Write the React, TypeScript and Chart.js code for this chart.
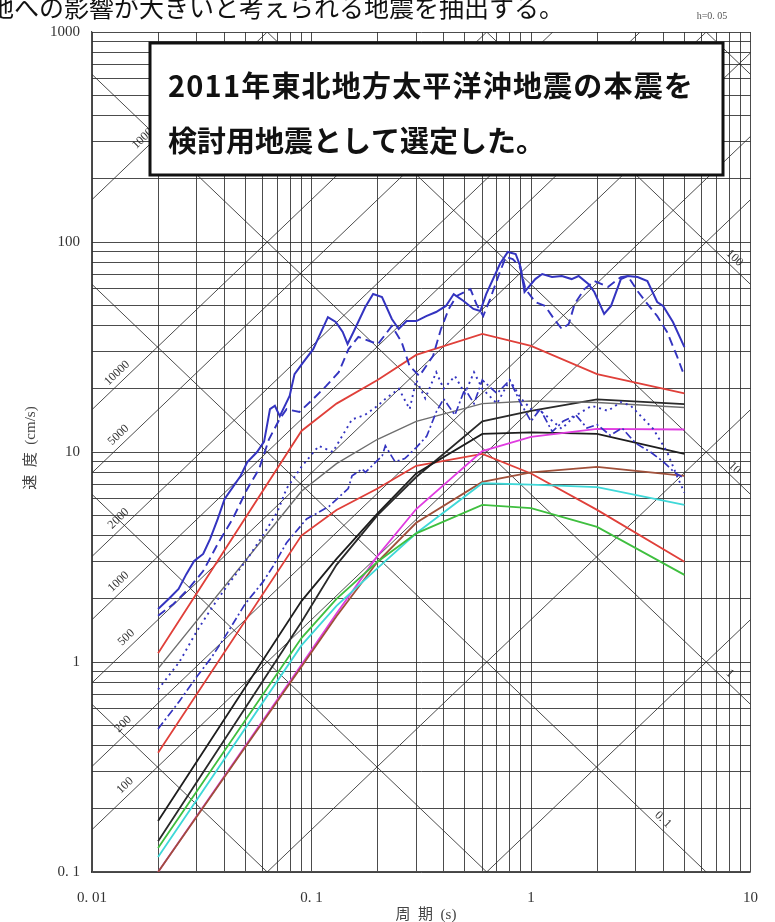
import React, { useEffect, useRef } from "react";
import { Chart, registerables } from "chart.js";
Chart.register(...registerables);

// ---------- axis ticks ----------
const xMajorTicks = [0.01, 0.1, 1, 10];
const xTickLabels = ["0. 01", "0. 1", "1", "10"];
const yMajorTicks = [0.1, 1, 10, 100, 1000];
const yTickLabels = ["0. 1", "1", "10", "100", "1000"];
const minorMultipliers = [1, 2, 3, 4, 5, 6, 7, 8, 9];

// ---------- tripartite guide lines ----------
const accelValues = [1, 10, 100, 200, 500, 1000, 2000, 5000, 10000, 100000]; // cm/s2
const accelLabelTexts = ["100", "200", "500", "1000", "2000", "5000", "10000", "100000"];
const accelLabelValues = [100, 200, 500, 1000, 2000, 5000, 10000, 100000];
const accelLabelPeriods = [0.0151, 0.0148, 0.0153, 0.0141, 0.0141, 0.0141, 0.0139, 0.019];
const dispValues = [0.001, 0.01, 0.1, 1, 10, 100, 1000]; // cm
const dispLabelTexts = ["0. 1", "1", "10", "100"];
const dispLabelValues = [0.1, 1, 10, 100];
const dispLabelPeriods = [3.77, 7.6, 7.98, 7.98];

// ---------- Noda-type spectra ----------
const nodaPeriods = [0.02, 0.09, 0.13, 0.2, 0.3, 0.6, 1, 2, 5];
const redUpper = [1.1, 12.6, 17, 22, 29, 36.5, 32, 23.5, 19];
const redLower = [0.37, 4.0, 5.3, 6.7, 8.6, 9.8, 7.9, 5.3, 3.0];
const grayLine = [0.93, 6.5, 8.8, 11.5, 14.0, 17.0, 17.5, 17.2, 16.3];
const blackA = [0.14, 1.55, 2.9, 5.0, 7.6, 14.0, 15.7, 17.8, 16.9];
const blackB = [0.175, 1.95, 3.1, 5.1, 7.9, 12.2, 12.4, 12.2, 9.8];
const magentaLine = [0.1, 0.97, 1.7, 3.2, 5.35, 10.1, 11.8, 12.9, 12.8];
const brownLine = [0.1, 0.95, 1.65, 3.0, 4.6, 7.2, 8.0, 8.5, 7.7];
const cyanLine = [0.118, 1.2, 1.85, 2.8, 4.1, 7.1, 7.0, 6.8, 5.6];
const greenLine = [0.13, 1.3, 2.0, 3.0, 4.1, 5.6, 5.4, 4.4, 2.6];

// ---------- observed spectra (2011) ----------
const obsSolidT = [0.02, 0.0224, 0.0248, 0.0269, 0.0292, 0.0321, 0.0345, 0.0374, 0.0402, 0.0475, 0.051, 0.0565, 0.0608, 0.0647, 0.0681, 0.0717, 0.0795, 0.0837, 0.0918, 0.1018, 0.1188, 0.129, 0.1387, 0.146, 0.1553, 0.1758, 0.1909, 0.2095, 0.2323, 0.2496, 0.2711, 0.3005, 0.3332, 0.3694, 0.4095, 0.4446, 0.493, 0.5465, 0.5874, 0.6249, 0.7218, 0.7839, 0.8514, 0.8965, 0.9342, 0.9835, 1.046, 1.125, 1.247, 1.382, 1.532, 1.648, 1.826, 1.943, 2.154, 2.315, 2.567, 2.759, 3.058, 3.39, 3.758, 3.998, 4.432, 5.0];
const obsSolidV = [1.79, 2.0, 2.23, 2.62, 3.03, 3.27, 3.85, 4.8, 5.97, 7.69, 8.96, 10.0, 11.2, 16.0, 16.6, 14.8, 18.5, 23.5, 26.8, 30.9, 43.9, 41.6, 37.3, 32.7, 37.3, 49.0, 56.5, 54.7, 43.0, 38.5, 42.0, 42.0, 44.4, 46.4, 49.6, 56.5, 52.4, 48.0, 46.9, 56.5, 78.6, 89.6, 87.7, 76.0, 57.8, 61.7, 66.6, 70.4, 68.1, 68.9, 66.6, 68.9, 63.1, 57.8, 45.4, 49.6, 66.6, 68.9, 68.1, 65.2, 51.8, 49.6, 41.6, 31.6];

const obsDashT = [0.02, 0.0235, 0.0275, 0.0321, 0.0374, 0.0437, 0.051, 0.0577, 0.064, 0.0717, 0.077, 0.0881, 0.1018, 0.1164, 0.1331, 0.1475, 0.1635, 0.1889, 0.201, 0.2323, 0.2574, 0.2796, 0.3099, 0.3581, 0.3889, 0.4222, 0.4587, 0.5299, 0.5636, 0.6058, 0.6512, 0.7218, 0.768, 0.8254, 0.8872, 0.9438, 1.046, 1.16, 1.273, 1.382, 1.486, 1.581, 1.752, 1.943, 2.244, 2.567, 2.759, 3.058, 3.39, 3.758, 4.167, 4.619, 5.0];
const obsDashV = [1.66, 1.89, 2.23, 2.71, 3.65, 4.8, 6.67, 8.3, 11.5, 14.4, 16.0, 15.5, 17.9, 20.6, 24.0, 30.9, 35.3, 33.4, 32.7, 39.8, 33.4, 25.7, 23.0, 28.7, 38.5, 48.0, 55.3, 59.7, 50.7, 44.4, 53.5, 72.0, 84.8, 83.0, 76.9, 59.7, 51.8, 49.6, 43.0, 38.5, 40.7, 50.7, 59.7, 65.2, 61.1, 68.1, 68.9, 58.4, 50.7, 44.4, 37.3, 28.7, 23.0];

const obsDotT = [0.02, 0.025, 0.03, 0.035, 0.04, 0.045, 0.051, 0.06, 0.07, 0.077, 0.09, 0.108, 0.125, 0.153, 0.175, 0.2, 0.217, 0.25, 0.28, 0.3, 0.33, 0.37, 0.4, 0.45, 0.5, 0.55, 0.6, 0.7, 0.8, 0.9, 1.0, 1.12, 1.38, 1.58, 1.89, 2.24, 2.57, 2.85, 3.17, 3.6, 4.17, 4.62, 5.0];
const obsDotV = [0.74, 1.0, 1.4, 1.8, 2.2, 2.6, 3.1, 4.0, 5.2, 6.7, 8.5, 10.7, 10.0, 14.3, 15.0, 16.6, 17.9, 20.0, 16.0, 22.0, 18.0, 24.0, 20.0, 23.0, 19.0, 24.0, 20.0, 17.0, 22.0, 18.0, 16.0, 15.5, 12.9, 14.8, 16.6, 15.7, 17.3, 16.6, 14.8, 12.9, 10.0, 7.7, 6.4];

const obsDashDotT = [0.02, 0.025, 0.03, 0.035, 0.04, 0.05, 0.06, 0.067, 0.077, 0.095, 0.12, 0.147, 0.153, 0.17, 0.176, 0.21, 0.217, 0.24, 0.266, 0.3, 0.335, 0.37, 0.4, 0.45, 0.5, 0.55, 0.6, 0.7, 0.8, 0.9, 1.0, 1.1, 1.25, 1.4, 1.6, 1.8, 2.0, 2.3, 2.6, 3.0, 3.5, 4.0, 4.5, 5.0];
const obsDashDotV = [0.48, 0.65, 0.85, 1.05, 1.3, 1.9, 2.4, 2.87, 3.7, 4.8, 5.5, 6.7, 7.7, 8.3, 8.0, 9.6, 10.7, 9.0, 9.3, 10.5, 11.9, 15.5, 17.9, 15.0, 20.0, 17.0, 22.0, 19.0, 22.0, 17.0, 14.0, 16.0, 12.5, 14.0, 15.0, 13.0, 13.5, 12.0, 13.0, 11.0, 10.0, 9.0, 8.0, 7.5];

const GRID = "rgba(45,45,45,0.85)";
const LABEL = "#333";
const BLUE = "#3434c0";
const TWO_PI = 2 * Math.PI;

const pts = (T: number[], V: number[]) => T.map((t, i) => ({ x: t, y: V[i] }));

const gridValues = (lo: number, hi: number) => {
  const out: number[] = [];
  for (let d = lo; d < hi * 0.999; d *= 10) minorMultipliers.forEach((m) => out.push(+(d * m).toPrecision(6)));
  out.push(hi);
  return out;
};

function App() {
  const ref = useRef<HTMLCanvasElement>(null);
  useEffect(() => {
    const canvas = ref.current!;
    const datasets: any[] = [];
    const guide = (data: any[]) => ({ data, borderColor: GRID, borderWidth: 1, pointRadius: 0, order: 20 });
    accelValues.forEach((a) => datasets.push(guide([{ x: 0.01, y: (a * 0.01) / TWO_PI }, { x: 10, y: (a * 10) / TWO_PI }])));
    dispValues.forEach((d) => datasets.push(guide([{ x: 0.01, y: (TWO_PI * d) / 0.01 }, { x: 10, y: (TWO_PI * d) / 10 }])));

    const noda = (V: number[], color: string, w = 1.8) => ({ data: pts(nodaPeriods, V), borderColor: color, borderWidth: w, pointRadius: 0, order: 5 });
    datasets.push(noda(greenLine, "#3fbf3f"));
    datasets.push(noda(cyanLine, "#3fd8d8"));
    datasets.push(noda(brownLine, "#a0503a"));
    datasets.push(noda(magentaLine, "#e03ce0"));
    datasets.push(noda(grayLine, "#6e6e6e", 1.4));
    datasets.push(noda(blackB, "#1e1e1e"));
    datasets.push(noda(blackA, "#2a2a2a"));
    datasets.push(noda(redLower, "#e0403a"));
    datasets.push(noda(redUpper, "#e0403a"));

    const obs = (T: number[], V: number[], dash: number[], w = 2) => ({ data: pts(T, V), borderColor: BLUE, borderWidth: w, borderDash: dash, pointRadius: 0, order: 1 });
    datasets.push(obs(obsDashDotT, obsDashDotV, [8, 3, 2, 3], 1.7));
    datasets.push(obs(obsDotT, obsDotV, [2, 4], 1.9));
    datasets.push(obs(obsDashT, obsDashV, [9, 5], 1.9));
    datasets.push(obs(obsSolidT, obsSolidV, [], 2));

    const annotate = {
      id: "annotate",
      afterDraw(chart: any) {
        const { ctx } = chart;
        const xs = chart.scales.x;
        const ys = chart.scales.y;
        ctx.save();
        // diagonal labels
        ctx.fillStyle = LABEL;
        ctx.font = '12px "Liberation Serif", "DejaVu Serif", serif';
        ctx.textAlign = "center";
        ctx.textBaseline = "middle";
        const drawAlong = (t: number, v: (t: number) => number, text: string, off: number) => {
          const px = xs.getPixelForValue(t);
          const py = ys.getPixelForValue(v(t));
          const px2 = xs.getPixelForValue(t * 2);
          const py2 = ys.getPixelForValue(v(t * 2));
          const ang = Math.atan2(py2 - py, px2 - px);
          ctx.save();
          ctx.translate(px, py);
          ctx.rotate(ang);
          ctx.fillText(text, 0, off);
          ctx.restore();
        };
        accelLabelValues.forEach((a, i) => drawAlong(accelLabelPeriods[i], (t) => (a * t) / TWO_PI, accelLabelTexts[i], -9));
        dispLabelValues.forEach((d, i) => drawAlong(dispLabelPeriods[i], (t) => (TWO_PI * d) / t, dispLabelTexts[i], -8));

        // damping note
        ctx.font = '10px "Liberation Serif", "DejaVu Serif", serif';
        ctx.fillStyle = "#555";
        ctx.fillText("h=0. 05", 712, 16);

        // axis titles
        ctx.font = '15px "Liberation Serif", "Noto Sans CJK JP", serif';
        ctx.fillStyle = "#444";
        ctx.fillText("周  期  (s)", 426, 915);
        ctx.save();
        ctx.translate(31, 448);
        ctx.rotate(-Math.PI / 2);
        ctx.fillText("速  度  (cm/s)", 0, 0);
        ctx.restore();

        // heading text (clipped at page top/left)
        ctx.font = '25px "Noto Sans CJK JP", sans-serif';
        ctx.fillStyle = "#111";
        ctx.textAlign = "left";
        ctx.textBaseline = "alphabetic";
        ctx.fillText("敷地への影響が大きいと考えられる地震を抽出する。", -36, 17);

        // callout box
        ctx.fillStyle = "#fff";
        ctx.fillRect(150, 43, 573, 132);
        ctx.lineWidth = 3;
        ctx.strokeStyle = "#111";
        ctx.strokeRect(150, 43, 573, 132);
        ctx.fillStyle = "#111";
        ctx.font = 'bold 29px "Noto Sans CJK JP", sans-serif';
        ctx.textBaseline = "middle";
        const fitLine = (text: string, x0: number, x1: number, y: number) => {
          (ctx as any).letterSpacing = "0px";
          const w = ctx.measureText(text).width;
          const n = Array.from(text).length;
          const sp = Math.max(0, (x1 - x0 - w) / n);
          (ctx as any).letterSpacing = sp + "px";
          ctx.fillText(text, x0, y);
          (ctx as any).letterSpacing = "0px";
        };
        fitLine("2011年東北地方太平洋沖地震の本震を", 168, 694, 86);
        fitLine("検討用地震として選定した。", 168, 542, 141);
        ctx.restore();
      },
    };

    const chart = new Chart(canvas, {
      type: "line",
      data: { datasets },
      options: {
        animation: false,
        responsive: false,
        devicePixelRatio: 1,
        layout: { padding: { top: 32, right: 13, left: 0, bottom: 0 } },
        plugins: { legend: { display: false }, tooltip: { enabled: false } },
        elements: { line: { tension: 0 } },
        scales: {
          x: {
            type: "logarithmic",
            min: 0.01,
            max: 10,
            afterBuildTicks: (s: any) => {
              s.ticks = gridValues(0.01, 10).map((v) => ({ value: v }));
            },
            afterFit: (s: any) => {
              s.height = 50;
            },
            grid: { color: GRID, lineWidth: 1, drawTicks: false },
            border: { display: true, color: GRID, width: 1.2 },
            ticks: {
              autoSkip: false,
              maxRotation: 0,
              padding: 17,
              color: LABEL,
              font: { family: '"Liberation Serif", "DejaVu Serif", serif', size: 15 },
              callback: (v: any) => {
                const i = xMajorTicks.findIndex((m) => Math.abs(m - v) / m < 1e-6);
                return i >= 0 ? xTickLabels[i] : "";
              },
            },
          },
          y: {
            type: "logarithmic",
            min: 0.1,
            max: 1000,
            afterBuildTicks: (s: any) => {
              s.ticks = gridValues(0.1, 1000).map((v) => ({ value: v }));
            },
            afterFit: (s: any) => {
              s.width = 92;
            },
            grid: { color: GRID, lineWidth: 1, drawTicks: false },
            border: { display: true, color: GRID, width: 1.2 },
            ticks: {
              autoSkip: false,
              padding: 12,
              color: LABEL,
              font: { family: '"Liberation Serif", "DejaVu Serif", serif', size: 15 },
              callback: (v: any) => {
                const i = yMajorTicks.findIndex((m) => Math.abs(m - v) / m < 1e-6);
                return i >= 0 ? yTickLabels[i] : "";
              },
            },
          },
        },
      },
      plugins: [annotate],
    } as any);
    return () => chart.destroy();
  }, []);

  return (
    <div style={{ position: "fixed", left: 0, top: 0, width: 775, height: 922, background: "#fff" }}>
      <canvas ref={ref} width={775} height={922} style={{ width: 775, height: 922, display: "block" }} />
    </div>
  );
}

export default App;
